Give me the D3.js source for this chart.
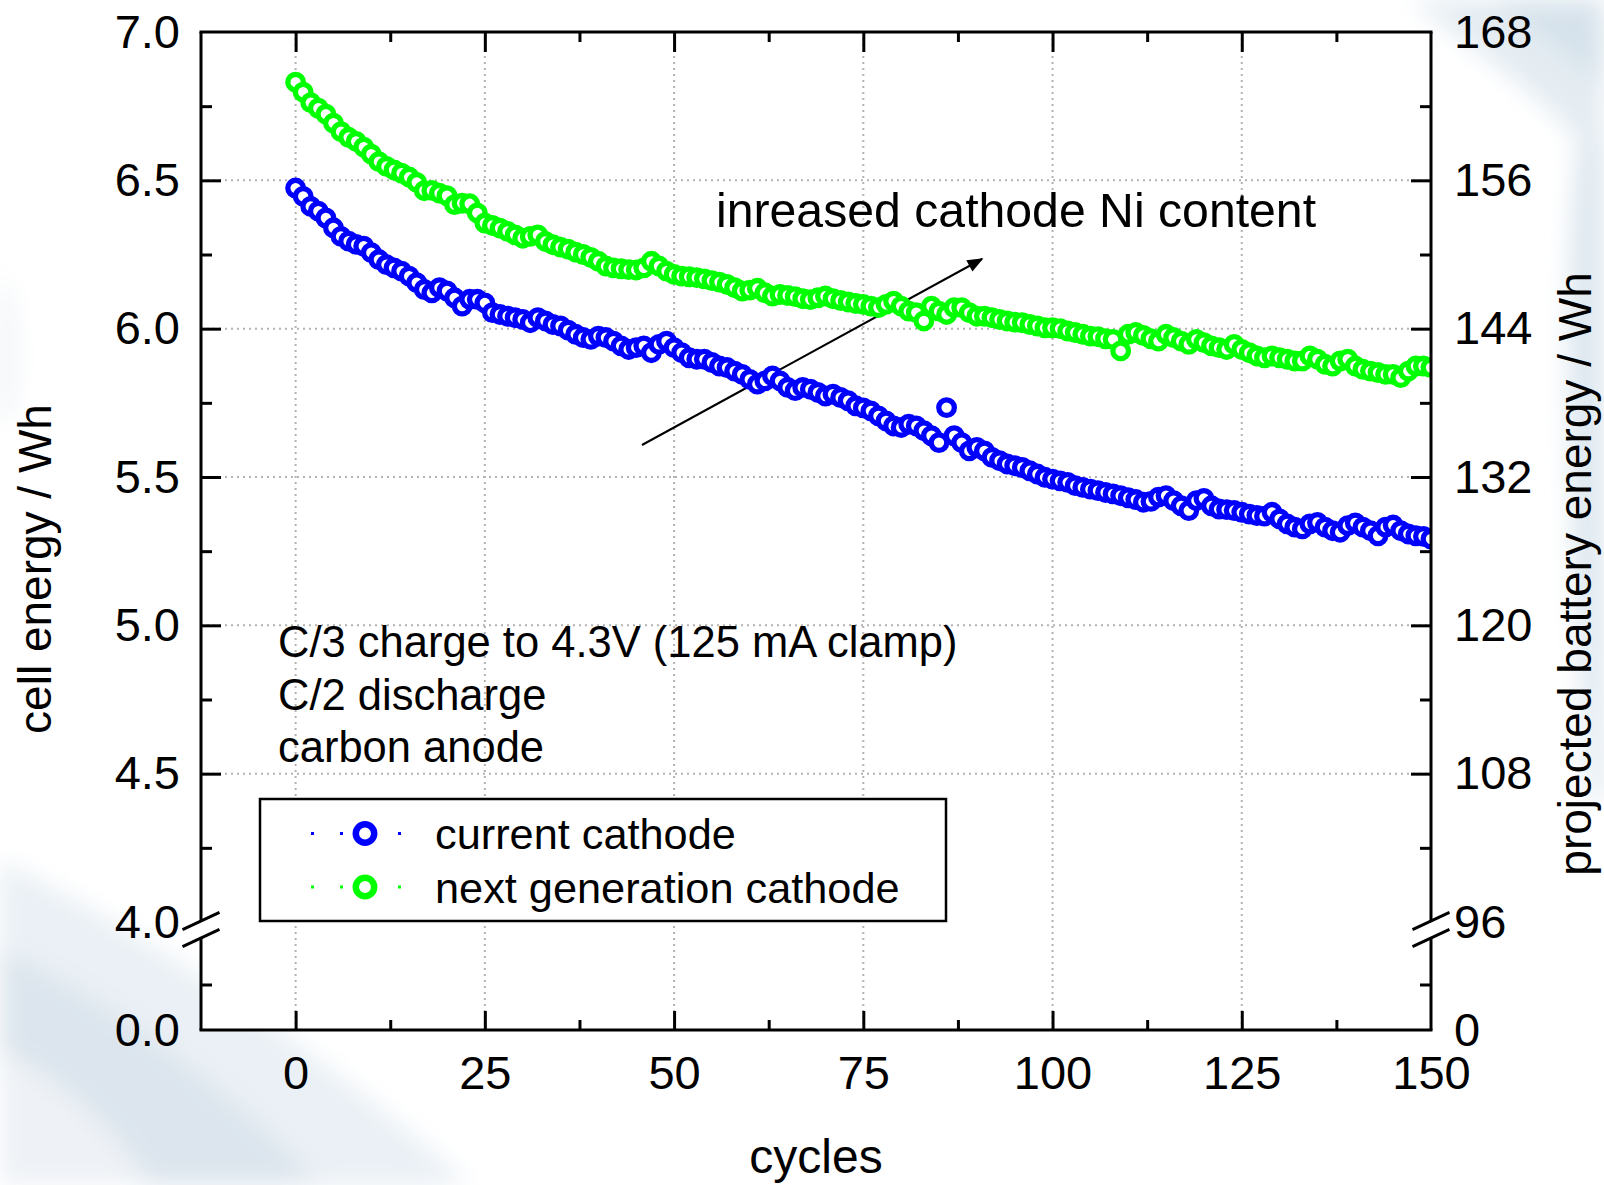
<html>
<head>
	<meta charset="utf-8">
	<title>Cell energy vs cycles</title>
	<script src="https://cdn.jsdelivr.net/npm/d3@7"></script>
	<style>
		body { margin: 0; background: #fff; }
		svg text { font-family: "Liberation Sans", Arial, sans-serif; fill: #000; }
		.axis path.domain { display: none; }
		.axis line { stroke: #000; stroke-width: 3; }
	</style>
</head>
<body>
<script type="text/javascript">

	/************** data *****************/
	// cycle number 0..150, one measurement per cycle
	var cycleNo = d3.range(0, 151);

	// cell energy (Wh), current cathode
	var currentCathode = [
		6.474,6.446,6.412,6.396,6.373,6.340,6.311,6.295,6.284,6.278,
		6.256,6.233,6.216,6.205,6.194,6.177,6.155,6.132,6.121,6.138,
		6.127,6.104,6.076,6.099,6.099,6.087,6.054,6.048,6.042,6.037,
		6.031,6.020,6.037,6.026,6.014,6.009,5.995,5.981,5.970,5.964,
		5.975,5.970,5.958,5.942,5.930,5.936,5.942,5.919,5.947,5.958,
		5.936,5.919,5.902,5.897,5.897,5.886,5.874,5.869,5.857,5.846,
		5.829,5.813,5.824,5.841,5.824,5.802,5.791,5.802,5.796,5.785,
		5.773,5.779,5.768,5.757,5.740,5.733,5.723,5.706,5.689,5.672,
		5.667,5.678,5.672,5.656,5.639,5.616,5.734,5.639,5.616,5.588,
		5.600,5.588,5.566,5.555,5.544,5.538,5.532,5.521,5.510,5.499,
		5.493,5.487,5.482,5.471,5.465,5.459,5.454,5.448,5.443,5.437,
		5.430,5.424,5.415,5.418,5.432,5.437,5.420,5.403,5.387,5.420,
		5.428,5.403,5.392,5.390,5.387,5.381,5.375,5.370,5.368,5.381,
		5.359,5.342,5.331,5.325,5.342,5.347,5.331,5.319,5.314,5.336,
		5.345,5.331,5.319,5.302,5.331,5.338,5.319,5.308,5.302,5.300,
		5.291
	];

	// cell energy (Wh), next generation cathode
	var nextGenCathode = [
		6.831,6.797,6.762,6.743,6.723,6.693,6.664,6.645,6.631,6.612,
		6.588,6.563,6.547,6.535,6.524,6.511,6.493,6.465,6.466,6.457,
		6.448,6.418,6.423,6.421,6.390,6.356,6.348,6.339,6.328,6.316,
		6.305,6.311,6.316,6.294,6.283,6.275,6.268,6.258,6.250,6.240,
		6.227,6.211,6.205,6.202,6.199,6.198,6.205,6.227,6.211,6.194,
		6.183,6.177,6.175,6.172,6.168,6.162,6.157,6.149,6.138,6.127,
		6.130,6.136,6.121,6.110,6.115,6.112,6.108,6.101,6.098,6.104,
		6.110,6.101,6.095,6.090,6.085,6.082,6.076,6.071,6.082,6.093,
		6.076,6.059,6.054,6.026,6.076,6.059,6.048,6.071,6.071,6.054,
		6.042,6.042,6.037,6.031,6.026,6.022,6.020,6.014,6.009,6.003,
		6.003,6.000,5.992,5.987,5.981,5.975,5.973,5.966,5.964,5.925,
		5.981,5.987,5.977,5.966,5.958,5.981,5.970,5.958,5.947,5.964,
		5.953,5.942,5.936,5.930,5.947,5.930,5.919,5.908,5.902,5.908,
		5.902,5.897,5.891,5.891,5.908,5.897,5.880,5.874,5.891,5.897,
		5.874,5.863,5.857,5.852,5.846,5.846,5.835,5.857,5.874,5.874,
		5.869
	];

	var seriesNames = ["current cathode", "next generation cathode"];
	var seriesColors = ["#0000ff", "#00ff00"];

	// axis ticks
	var xTicks = [0, 25, 50, 75, 100, 125, 150];
	var xMinorTicks = [12.5, 37.5, 62.5, 87.5, 112.5, 137.5];
	var yTicks = [4.0, 4.5, 5.0, 5.5, 6.0, 6.5, 7.0];
	var yMinorTicks = [4.25, 4.75, 5.25, 5.75, 6.25, 6.75];
	var yLowTicks = [0.0];
	var yLowMinorTicks = [2.0];
	var rightTicks = [96, 108, 120, 132, 144, 156, 168];
	var rightLowTicks = [0];

	var notes = ["C/3 charge to 4.3V (125 mA clamp)", "C/2 discharge", "carbon anode"];

	/************** layout *****************/
	var width = 1604, height = 1185;
	var plot = {left: 201, right: 1431, top: 32, bottom: 1030, breakTop: 921, breakBottom: 938};

	var svg = d3.select("body").append("svg")
		.attr("width", width)
		.attr("height", height);

	var defs = svg.append("defs");
	defs.append("filter").attr("id", "soft")
		.attr("x", "-20%").attr("y", "-20%").attr("width", "140%").attr("height", "140%")
		.append("feGaussianBlur").attr("stdDeviation", 12);
	defs.append("clipPath").attr("id", "plotClip")
		.append("rect")
		.attr("x", plot.left).attr("y", plot.top)
		.attr("width", plot.right - plot.left)
		.attr("height", plot.bottom - plot.top);

	// scales: upper part of the broken y axis and the short lower part
	var x = d3.scaleLinear().domain([-12.5, 150]).range([plot.left, plot.right]);
	var yUp = d3.scaleLinear().domain([4, 7]).range([plot.breakTop + 1, plot.top]);
	var yLow = d3.scaleLinear().domain([0, 4]).range([plot.bottom, plot.breakBottom + 1]);
	var yRightUp = d3.scaleLinear().domain([96, 168]).range([plot.breakTop + 1, plot.top]);
	var yRightLow = d3.scaleLinear().domain([0, 96]).range([plot.bottom, plot.breakBottom + 1]);

	/************** slide background swooshes *****************/
	var bg = svg.append("g").attr("filter", "url(#soft)");
	bg.append("path")
		.attr("d", "M0,860 C140,930 310,1040 470,1185 L0,1185 Z")
		.attr("fill", "#eaf0f5");
	bg.append("path")
		.attr("d", "M0,950 C110,1000 230,1090 320,1185 L0,1185 Z")
		.attr("fill", "#dce5ed");
	bg.append("path")
		.attr("d", "M0,1050 C70,1085 120,1135 150,1185 L0,1185 Z")
		.attr("fill", "#eef2f6");
	bg.append("path")
		.attr("d", "M1410,0 C1490,60 1560,110 1604,170 L1604,0 Z")
		.attr("fill", "#e4ecf2");
	bg.append("path")
		.attr("d", "M1490,0 C1530,30 1575,60 1604,85 L1604,0 Z")
		.attr("fill", "#d6e2eb");
	bg.append("path")
		.attr("d", "M1578,140 C1562,300 1566,500 1590,800 L1604,800 L1604,140 Z")
		.attr("fill", "#dde7ef");
	bg.append("path")
		.attr("d", "M0,270 C15,300 20,350 10,420 L0,420 Z")
		.attr("fill", "#edf1f5");

	// white plot area
	svg.append("rect")
		.attr("x", plot.left).attr("y", plot.top)
		.attr("width", plot.right - plot.left)
		.attr("height", plot.bottom - plot.top)
		.attr("fill", "#fff");

	/************** grid *****************/
	var grid = svg.append("g").attr("class", "grid")
		.attr("stroke", "#b3b3b3")
		.attr("stroke-width", 2)
		.attr("stroke-dasharray", "2,4");
	grid.selectAll(".vgrid")
		.data(xTicks.filter(function(d){ return d < 150; }))
		.enter().append("line")
		.attr("x1", function(d){ return x(d); })
		.attr("x2", function(d){ return x(d); })
		.attr("y1", plot.top)
		.attr("y2", plot.bottom);
	grid.selectAll(".hgrid")
		.data(yTicks.filter(function(d){ return d > 4 && d < 7; }))
		.enter().append("line")
		.attr("x1", plot.left)
		.attr("x2", plot.right)
		.attr("y1", function(d){ return yUp(d); })
		.attr("y2", function(d){ return yUp(d); });

	/************** notes & arrow *****************/
	svg.selectAll(".note")
		.data(notes)
		.enter().append("text")
		.attr("class", "note")
		.attr("x", 278)
		.attr("y", function(d, i){ return 657 + i * 52.5; })
		.attr("font-size", 43.5)
		.text(function(d){ return d; });

	svg.append("text")
		.attr("x", 716)
		.attr("y", 227)
		.attr("font-size", 48.2)
		.text("inreased cathode Ni content");

	defs.append("marker").attr("id", "arrowHead")
		.attr("viewBox", "0 0 10 10")
		.attr("refX", 9).attr("refY", 5)
		.attr("markerWidth", 20).attr("markerHeight", 16)
		.attr("markerUnits", "userSpaceOnUse")
		.attr("orient", "auto")
		.append("path").attr("d", "M0,1 L10,5 L0,9 Z").attr("fill", "#000");

	svg.append("line")
		.attr("x1", 642).attr("y1", 445)
		.attr("x2", 982).attr("y2", 259)
		.attr("stroke", "#000")
		.attr("stroke-width", 2)
		.attr("marker-end", "url(#arrowHead)");

	/************** series *****************/
	var seriesData = [currentCathode, nextGenCathode].map(function(vals){
		return vals.map(function(v, i){ return {c: cycleNo[i], v: v}; });
	});

	var line = d3.line()
		.x(function(d){ return x(d.c); })
		.y(function(d){ return yUp(d.v); });

	var dataLayer = svg.append("g").attr("clip-path", "url(#plotClip)");
	seriesData.forEach(function(s, k){
		var g = dataLayer.append("g").attr("class", "series");
		g.append("path")
			.datum(s)
			.attr("d", line)
			.attr("fill", "none")
			.attr("stroke", seriesColors[k])
			.attr("stroke-width", 3)
			.attr("stroke-dasharray", "3,26");
		g.selectAll("circle")
			.data(s)
			.enter().append("circle")
			.attr("cx", function(d){ return x(d.c); })
			.attr("cy", function(d){ return yUp(d.v); })
			.attr("r", 7.8)
			.attr("fill", "#fff")
			.attr("stroke", seriesColors[k])
			.attr("stroke-width", 5.3);
	});

	/************** legend *****************/
	var legend = svg.append("g").attr("class", "legend");
	legend.append("rect")
		.attr("x", 260).attr("y", 799)
		.attr("width", 686).attr("height", 122)
		.attr("fill", "#fff")
		.attr("stroke", "#000")
		.attr("stroke-width", 2.5);
	var rows = legend.selectAll(".row")
		.data(seriesNames)
		.enter().append("g")
		.attr("class", "row")
		.attr("transform", function(d, i){ return "translate(0," + (833.5 + i * 53.5) + ")"; });
	rows.append("line")
		.attr("x1", 311).attr("x2", 402)
		.attr("stroke", function(d, i){ return seriesColors[i]; })
		.attr("stroke-width", 3)
		.attr("stroke-dasharray", "3,26");
	rows.append("circle")
		.attr("cx", 365).attr("r", 9.2)
		.attr("fill", "#fff")
		.attr("stroke", function(d, i){ return seriesColors[i]; })
		.attr("stroke-width", 6.5);
	rows.append("text")
		.attr("x", 435).attr("y", 15.5)
		.attr("font-size", 43.3)
		.text(function(d){ return d; });

	/************** axes *****************/
	function styleAxis(g, size){
		g.selectAll("text").attr("font-size", size).style("font-family", "\"Liberation Sans\", Arial, sans-serif");
	}
	function dropLines(g, vals){
		g.selectAll(".tick").filter(function(d){ return vals.indexOf(d) >= 0; }).select("line").remove();
	}

	// bottom
	var gx = svg.append("g").attr("class", "axis")
		.attr("transform", "translate(0," + plot.bottom + ")")
		.call(d3.axisBottom(x).tickValues(xTicks).tickSizeInner(-19).tickSizeOuter(0).tickPadding(26));
	styleAxis(gx, 47);
	dropLines(gx, [150]);
	svg.append("g").attr("class", "axis")
		.attr("transform", "translate(0," + plot.bottom + ")")
		.call(d3.axisBottom(x).tickValues(xMinorTicks).tickSizeInner(-10).tickSizeOuter(0).tickFormat(""));

	// top
	var gxt = svg.append("g").attr("class", "axis")
		.attr("transform", "translate(0," + plot.top + ")")
		.call(d3.axisTop(x).tickValues(xTicks).tickSizeInner(-20).tickSizeOuter(0).tickFormat(""));
	dropLines(gxt, [150]);
	svg.append("g").attr("class", "axis")
		.attr("transform", "translate(0," + plot.top + ")")
		.call(d3.axisTop(x).tickValues(xMinorTicks).tickSizeInner(-10).tickSizeOuter(0).tickFormat(""));

	// left, upper part
	var gy = svg.append("g").attr("class", "axis")
		.attr("transform", "translate(" + plot.left + ",0)")
		.call(d3.axisLeft(yUp).tickValues(yTicks).tickSizeInner(-20).tickSizeOuter(0).tickPadding(21).tickFormat(d3.format(".1f")));
	styleAxis(gy, 47);
	dropLines(gy, [4, 7]);
	svg.append("g").attr("class", "axis")
		.attr("transform", "translate(" + plot.left + ",0)")
		.call(d3.axisLeft(yUp).tickValues(yMinorTicks).tickSizeInner(-11).tickSizeOuter(0).tickFormat(""));
	// left, lower part
	var gyl = svg.append("g").attr("class", "axis")
		.attr("transform", "translate(" + plot.left + ",0)")
		.call(d3.axisLeft(yLow).tickValues(yLowTicks).tickSizeInner(-20).tickSizeOuter(0).tickPadding(21).tickFormat(d3.format(".1f")));
	styleAxis(gyl, 47);
	dropLines(gyl, [0]);
	svg.append("g").attr("class", "axis")
		.attr("transform", "translate(" + plot.left + ",0)")
		.call(d3.axisLeft(yLow).tickValues(yLowMinorTicks).tickSizeInner(-11).tickSizeOuter(0).tickFormat(""));

	// right, projected battery energy
	var gr = svg.append("g").attr("class", "axis")
		.attr("transform", "translate(" + plot.right + ",0)")
		.call(d3.axisRight(yRightUp).tickValues(rightTicks).tickSizeInner(-20).tickSizeOuter(0).tickPadding(23).tickFormat(d3.format("d")));
	styleAxis(gr, 47);
	dropLines(gr, [96, 168]);
	svg.append("g").attr("class", "axis")
		.attr("transform", "translate(" + plot.right + ",0)")
		.call(d3.axisRight(yRightUp).tickValues(yMinorTicks.map(function(d){ return d * 24; })).tickSizeInner(-11).tickSizeOuter(0).tickFormat(""));
	var grl = svg.append("g").attr("class", "axis")
		.attr("transform", "translate(" + plot.right + ",0)")
		.call(d3.axisRight(yRightLow).tickValues(rightLowTicks).tickSizeInner(-20).tickSizeOuter(0).tickPadding(23).tickFormat(d3.format("d")));
	styleAxis(grl, 47);
	dropLines(grl, [0]);
	svg.append("g").attr("class", "axis")
		.attr("transform", "translate(" + plot.right + ",0)")
		.call(d3.axisRight(yRightLow).tickValues([48]).tickSizeInner(-11).tickSizeOuter(0).tickFormat(""));

	/************** frame with axis breaks *****************/
	var frame = svg.append("g").attr("stroke", "#000").attr("stroke-width", 3).attr("fill", "none");
	frame.append("line").attr("x1", plot.left - 1.5).attr("x2", plot.right + 1.5).attr("y1", plot.top).attr("y2", plot.top);
	frame.append("line").attr("x1", plot.left - 1.5).attr("x2", plot.right + 1.5).attr("y1", plot.bottom).attr("y2", plot.bottom);
	[plot.left, plot.right].forEach(function(px){
		frame.append("line").attr("x1", px).attr("x2", px).attr("y1", plot.top).attr("y2", plot.breakTop);
		frame.append("line").attr("x1", px).attr("x2", px).attr("y1", plot.breakBottom).attr("y2", plot.bottom);
		[plot.breakTop, plot.breakBottom].forEach(function(py){
			frame.append("line")
				.attr("x1", px - 18.5).attr("y1", py + 8.6)
				.attr("x2", px + 18.5).attr("y2", py - 8.6);
		});
	});

	/************** axis titles *****************/
	svg.append("text")
		.attr("transform", "translate(816,1173)")
		.attr("text-anchor", "middle")
		.attr("font-size", 48)
		.text("cycles");
	svg.append("text")
		.attr("transform", "translate(51,569) rotate(-90)")
		.attr("text-anchor", "middle")
		.attr("font-size", 46)
		.text("cell energy / Wh");
	svg.append("text")
		.attr("transform", "translate(1591,574) rotate(-90)")
		.attr("text-anchor", "middle")
		.attr("font-size", 46)
		.text("projected battery energy / Wh");

</script>
</body>
</html>
